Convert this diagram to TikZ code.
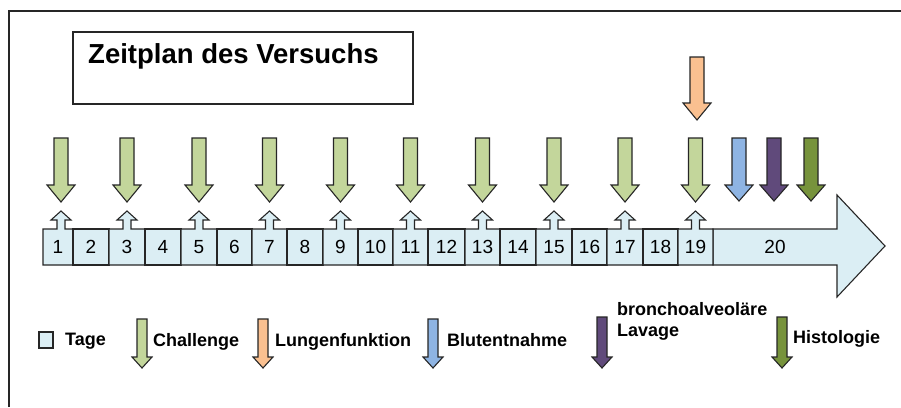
\documentclass[tikz,border=0pt]{standalone}
\usepackage{fontspec}
\setmainfont{Liberation Sans}
\definecolor{daybg}{HTML}{DBEEF4}
\definecolor{chalgreen}{HTML}{C3D69B}
\definecolor{lungorange}{HTML}{FAC090}
\definecolor{bloodblue}{HTML}{8EB4E3}
\definecolor{balpurple}{HTML}{604A7B}
\definecolor{histgreen}{HTML}{77933C}
\definecolor{linegray}{HTML}{262626}
% downward block arrow: centre x, top, head base, tip, shaft half width, head half width, fill
\newcommand\tlarrow[7]{%
  \draw[edge, fill=#7] (#1-#5,#2) -- (#1+#5,#2) -- (#1+#5,#3) -- (#1+#6,#3)
    -- (#1,#4) -- (#1-#6,#3) -- (#1-#5,#3) -- cycle;}
\begin{document}
\begin{tikzpicture}[x=1pt,y=-1pt,
  edge/.style={draw=linegray, line width=1.1pt, line join=miter},
  daynum/.style={font=\fontsize{19}{21}\selectfont, inner sep=0pt},
  legendtext/.style={font=\bfseries\fontsize{18}{21}\selectfont, inner sep=0pt, anchor=base west, align=left},
  titletext/.style={font=\bfseries\fontsize{27.5}{30}\selectfont, inner sep=0pt, anchor=base west}]
\useasboundingbox (0,0) rectangle (901,407);
\fill[white] (0,0) rectangle (901,407);

% outer frame
\draw[line width=1.6pt, linegray] (9,407) -- (9,11) -- (901,11);

% title box
\draw[edge, line width=1.4pt] (73,32) rectangle (413,104);
\node[titletext] (title) at (88,63) {Zeitplan des Versuchs};

% timeline arrow with day 20
\draw[edge, fill=daybg] (713,229) -- (837,229) -- (837,195) -- (885,246)
  -- (837,297) -- (837,265) -- (713,265) -- cycle;
\node[daynum] (day20) at (775,247) {20};

% days 1-19; odd days carry a small up arrow
\foreach \d/\l/\r/\c in {1/43/73/61, 2/73/109/91, 3/109/145/127, 4/145/181/163,
    5/181/217/199, 6/217/252/234.5, 7/252/287/269.5, 8/287/323/305,
    9/323/358/340.5, 10/358/393/375.5, 11/393/428/410.5, 12/428/465/446.5,
    13/465/500/482.5, 14/500/536/518, 15/536/572/554, 16/572/607/589.5,
    17/607/643/625, 18/643/678/660.5, 19/678/713/695.5}{
  \pgfmathtruncatemacro\odd{mod(\d,2)}
  \ifnum\odd=1
    \draw[edge, fill=daybg] (\l,265) -- (\l,229) -- (\c-4,229) -- (\c-4,220)
      -- (\c-10,220) -- (\c,211) -- (\c+10,220) -- (\c+4,220) -- (\c+4,229)
      -- (\r,229) -- (\r,265) -- cycle;
  \else
    \draw[edge, fill=daybg] (\l,229) rectangle (\r,265);
  \fi
  \node[daynum] (day\d) at ({(\l+\r)/2},247) {\d};
}

% challenge arrows on odd days
\foreach \c in {61,127,199,269.5,340.5,410.5,482.5,554,625,695.5}{
  \tlarrow{\c}{138}{185}{202}{7}{14}{chalgreen}
}
% lung function, blood sampling, BAL, histology
\tlarrow{697}{57}{103}{120}{7}{14}{lungorange}
\tlarrow{739}{138}{185}{201}{7}{14}{bloodblue}
\tlarrow{774}{138}{185}{201}{7}{14}{balpurple}
\tlarrow{811}{138}{185}{201}{7}{14}{histgreen}

% legend
\draw[edge, fill=daybg] (39,332) rectangle (53,348);
\node[legendtext] (lgdays) at (65,345) {Tage};
\tlarrow{142}{319}{357}{368}{5}{10}{chalgreen}
\node[legendtext] (lgchal) at (153,346) {Challenge};
\tlarrow{263}{319}{357}{368}{5}{10}{lungorange}
\node[legendtext] (lglung) at (275,346) {Lungenfunktion};
\tlarrow{433}{319}{357}{368}{5}{10}{bloodblue}
\node[legendtext] (lgblood) at (447,346) {Blutentnahme};
\tlarrow{602}{317}{357}{368}{5}{10}{balpurple}
\node[legendtext] (lgbal) at (617,336) {bronchoalveoläre\\[-0.5pt]Lavage};
\tlarrow{782}{317}{357}{368}{5}{10}{histgreen}
\node[legendtext] (lghist) at (793,343) {Histologie};
\end{tikzpicture}
\end{document}
